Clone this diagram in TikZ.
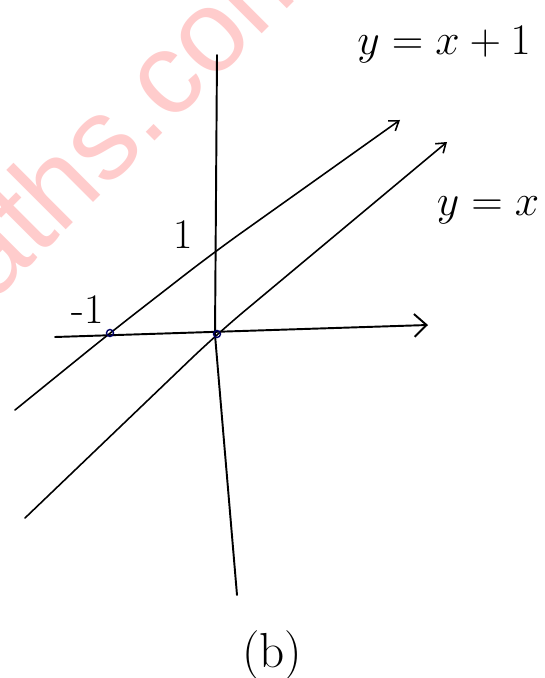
\documentclass[tikz,border=0pt]{standalone}
\usepackage{fontspec}
\newfontfamily\markfont{Liberation Sans}
\usetikzlibrary{arrows.meta}

\tikzset{
    lbl/.style={inner sep=0pt, font=\fontsize{24}{28}\selectfont},
    axis/.style={line width=1.1pt, line cap=round},
    graphline/.style={line width=0.9pt, line cap=round, -{Straight Barb[length=5pt, width=7pt]}},
    cut/.style={draw=blue!40!black, line width=0.8pt, fill=none}
}

\begin{document}
\begin{tikzpicture}[x=0.02cm, y=-0.02cm]
    \useasboundingbox (0,0) rectangle (544,678);

    % watermark
    \begin{scope}
        \clip (0,0) rectangle (544,678);
        \node (mark) [anchor=base west, inner sep=0pt, rotate=45, text=red!20, font=\markfont\fontsize{66}{66}\selectfont] at (-76,372) {maths.com};
    \end{scope}

    % axes
    \coordinate (ytop) at (217,55);
    \coordinate (ymid) at (215,335);
    \coordinate (ybot) at (237,595);
    \coordinate (xleft) at (55,337);
    \coordinate (xright) at (428,325);
    \draw[axis] (ytop) -- (ymid) -- (ybot);
    \draw[axis, -{Straight Barb[length=7pt, width=13pt]}] (xleft) -- (xright);

    % y = x + 1
    \coordinate (a1) at (15,410);
    \coordinate (a2) at (110,333);
    \coordinate (a3) at (213,253);
    \coordinate (a4) at (400,120);
    \draw[graphline, rounded corners=20pt] (a1) -- (a2) -- (a3) -- (a4);

    % y = x
    \coordinate (b1) at (25,518);
    \coordinate (b3) at (217,334);
    \coordinate (b4) at (447,142);
    \draw[graphline, rounded corners=20pt] (b1) -- (b3) -- (b4);

    % intercepts
    \draw[cut] (a2) circle (3.5);
    \draw[cut] (b3) circle (3.5);

    % labels
    \node (lblone) [lbl] at (444,45) {$y=x+1$};
    \node (lbltwo) [lbl] at (488,210) {$y=x$};
    \node (yint) [lbl] at (183,235) {1};
    \node (xint) [lbl] at (88,310) {-1};
    \node (cap) [lbl, font=\fontsize{28}{32}\selectfont] at (272,655) {(b)};
\end{tikzpicture}
\end{document}
